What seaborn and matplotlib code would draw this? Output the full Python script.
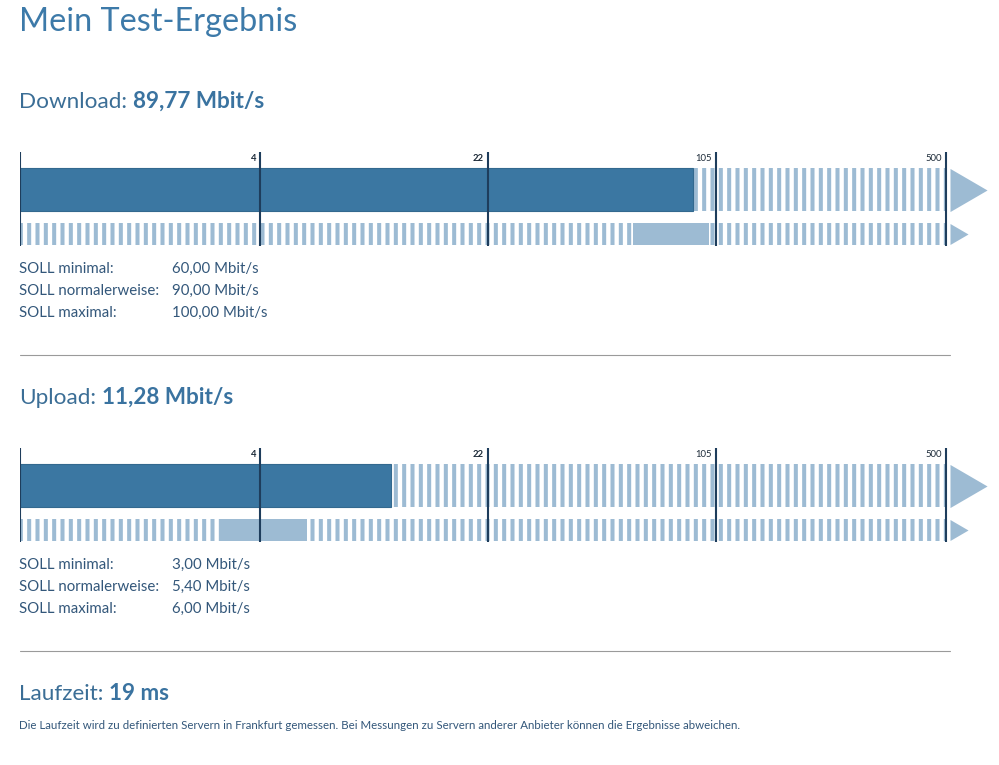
import numpy as np
import pandas as pd
import matplotlib
matplotlib.use("Agg")
import matplotlib.pyplot as plt
import matplotlib.transforms as mtransforms
from matplotlib.lines import Line2D
import seaborn as sns

# ---------------- data ----------------
title = "Mein Test-Ergebnis"
tests = ["Download", "Upload"]
measured = [89.77, 11.28]
soll_min = [60.00, 3.00]
soll_normal = [90.00, 5.40]
soll_max = [100.00, 6.00]
scale_ticks = [0, 4, 22, 105, 500]
scale_tick_labels = ["", "4", "22", "105", "500"]
soll_labels = ["SOLL minimal:", "SOLL normalerweise:", "SOLL maximal:"]
unit = "Mbit/s"
latency_label = "Laufzeit:"
latency_value = "19 ms"
note = ("Die Laufzeit wird zu definierten Servern in Frankfurt gemessen. "
        "Bei Messungen zu Servern anderer Anbieter können die Ergebnisse abweichen.")

# ---------------- style ----------------
DARK = "#3b77a2"
DARK_EDGE = "#33698f"
LIGHT = "#9dbbd3"
TICK = "#1e3d5c"
TITLE_C = "#3d7aa9"
HEAD_C = "#3b6e96"
VAL_C = "#3a73a0"
TXT_C = "#33577a"
SEP_C = "#9a9a9a"

W, H = 999, 765
sns.set_theme(style="white")
plt.rcParams["font.family"] = ["Lato", "DejaVu Sans"]
plt.rcParams["hatch.linewidth"] = 2.9

fig = plt.figure(figsize=(W / 100, H / 100), dpi=100)
fig.patch.set_facecolor("white")


def fx(px):
    return px / W


def fy(py):
    return 1 - py / H


# piecewise logarithmic scale between the tick marks
SEG_PX = np.array([0, 240, 468, 696, 926], float)
U = np.log(np.array(scale_ticks, float) + 2)
S_LO = (SEG_PX[1] - SEG_PX[0]) / (U[1] - U[0])
S_HI = (SEG_PX[-1] - SEG_PX[-2]) / (U[-1] - U[-2])


def fwd(v):
    v = np.clip(np.asarray(v, float), -1.9, None)
    u = np.log(v + 2)
    p = np.interp(u, U, SEG_PX)
    p = np.where(u > U[-1], SEG_PX[-1] + (u - U[-1]) * S_HI, p)
    p = np.where(u < U[0], SEG_PX[0] + (u - U[0]) * S_LO, p)
    return p


def inv(p):
    p = np.asarray(p, float)
    u = np.interp(p, SEG_PX, U)
    u = np.where(p > SEG_PX[-1], U[-1] + (p - SEG_PX[-1]) / S_HI, u)
    u = np.where(p < SEG_PX[0], U[0] + (p - SEG_PX[0]) / S_LO, u)
    return np.exp(u) - 2


tri = [(0, -1), (1.72, 0), (0, 1)]

AX_L, AX_R = 20, 990
ROW_MAIN, H_MAIN = 39.5, 43
ROW_SOLL, H_SOLL = 83.5, 22

for i, name in enumerate(tests):
    top = 150 + 296 * i
    ax = fig.add_axes([fx(AX_L), fy(top + 97), fx(AX_R - AX_L), 97 / H])
    ax.set_xscale("function", functions=(fwd, inv))

    # striped remainder of main bar
    ax.barh(ROW_MAIN, scale_ticks[-1] - measured[i], left=measured[i], height=H_MAIN,
            color="white", edgecolor=LIGHT, hatch="||", linewidth=0, zorder=1)
    # measured bar (seaborn)
    df = pd.DataFrame({"wert": [measured[i]], "zeile": [ROW_MAIN]})
    sns.barplot(data=df, x="wert", y="zeile", orient="h", native_scale=True,
                width=H_MAIN, color=DARK, saturation=1, edgecolor=DARK_EDGE,
                linewidth=0.8, ax=ax, zorder=2)
    # striped SOLL row
    ax.barh(ROW_SOLL, scale_ticks[-1], left=0, height=H_SOLL,
            color="white", edgecolor=LIGHT, hatch="||", linewidth=0, zorder=1)
    ax.barh(ROW_SOLL, soll_max[i] - soll_min[i], left=soll_min[i], height=H_SOLL,
            color=LIGHT, linewidth=0, zorder=2)

    # tick lines and labels
    ax.vlines(scale_ticks, 2, 96, color=TICK, lw=1.5, zorder=3)
    for t, lbl in zip(scale_ticks, scale_tick_labels):
        ax.annotate(lbl, xy=(t, 4), xytext=(-4, 0), textcoords="offset pixels",
                    ha="right", va="top", fontsize=6.8, color="#1c2a38",
                    fontweight="bold" if lbl in ("4", "22") else "normal")

    # arrow heads
    shift = ax.transData + mtransforms.ScaledTranslation(0.04, 0, fig.dpi_scale_trans)
    ax.plot([scale_ticks[-1]], [ROW_MAIN], marker=tri, ms=53.4, color=LIGHT,
            mew=0, transform=shift, clip_on=False, zorder=3)
    ax.plot([scale_ticks[-1]], [ROW_SOLL], marker=tri, ms=26, color=LIGHT,
            mew=0, transform=shift, clip_on=False, zorder=3)

    ax.set_xlim(0, float(inv(AX_R - AX_L)))
    ax.set_ylim(97, 0)
    ax.set_axis_off()

# ---------------- texts ----------------
fig.text(fx(19), fy(31), title, fontsize=23.3, color=TITLE_C, va="baseline")

renderer = fig.canvas.get_renderer()


def heading(px_y, label, value):
    t1 = fig.text(fx(19), fy(px_y), label, fontsize=16.2, color=HEAD_C, va="baseline")
    bb = t1.get_window_extent(renderer)
    fig.text((bb.x1 + 6) / W, fy(px_y), value, fontsize=16.2, color=VAL_C,
             fontweight="bold", va="baseline")


def fmt(v):
    return f"{v:.2f}".replace(".", ",") + " " + unit


for i, name in enumerate(tests):
    off = 296 * i
    heading(108 + off, name + ":", fmt(measured[i]))
    for k, (lbl, val) in enumerate(zip(soll_labels, [soll_min[i], soll_normal[i], soll_max[i]])):
        y = 273 + 22 * k + off
        fig.text(fx(19), fy(y), lbl, fontsize=10.8, color=TXT_C, va="baseline")
        fig.text(fx(172), fy(y), fmt(val), fontsize=10.8, color=TXT_C, va="baseline")
    fig.add_artist(Line2D([fx(20), fx(950)], [fy(355 + off), fy(355 + off)],
                          color=SEP_C, lw=0.8))

heading(700, latency_label, latency_value)
fig.text(fx(19), fy(729), note, fontsize=8.3, color=TXT_C, va="baseline")

fig.savefig("out.png", dpi=100, facecolor="white")
